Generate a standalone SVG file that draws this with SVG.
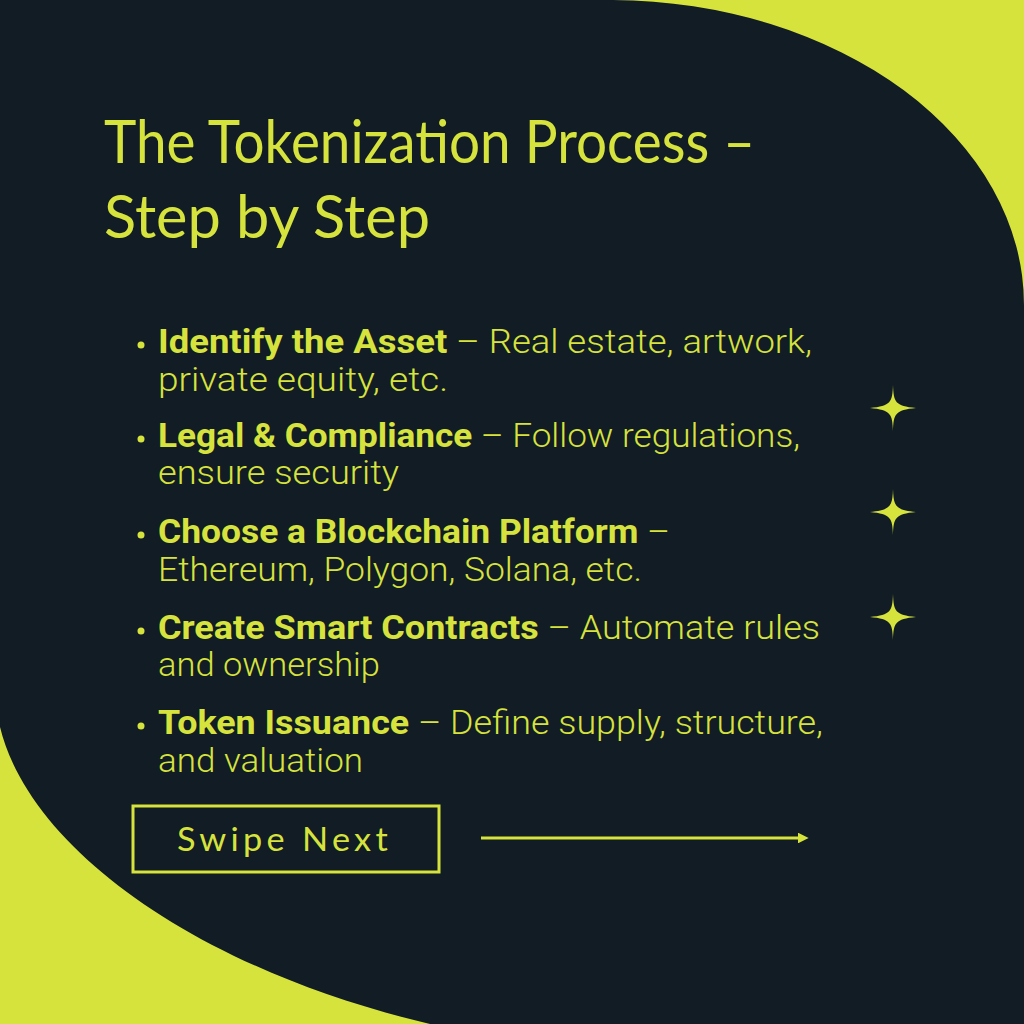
<svg xmlns="http://www.w3.org/2000/svg" width="1024" height="1024" viewBox="0 0 1024 1024">
  <defs>
    <style>
      .bg { fill: #d7e33d; }
      .dark { fill: #111c25; }
      .title { font-family: "Lato", "Open Sans", sans-serif; font-size: 60px; font-weight: 400; fill: #d7e33d; }
      .body { font-family: "Roboto", "Liberation Sans", sans-serif; font-size: 34px; font-weight: 300; fill: #d7e33d; }
      .b { font-weight: 700; }
      .dot { fill: #d7e33d; }
      .star { fill: #d7e33d; }
      .btn { fill: none; stroke: #d7e33d; stroke-width: 3; }
      .btntext { font-family: "Lato", "Open Sans", sans-serif; font-size: 32px; font-weight: 400; fill: #d7e33d; letter-spacing: 4px; }
      .conn { stroke: #d7e33d; stroke-width: 3; fill: none; }
    </style>
    <marker id="arrowhead" viewBox="0 0 10 10" refX="2" refY="5" markerWidth="3.6" markerHeight="3.6" orient="auto" markerUnits="strokeWidth">
      <path d="M0,0 L10,5 L0,10 Z" fill="#d7e33d"/>
    </marker>
    <path id="starshape" d="M0,-23 C0.6,-6 2,-2 23,0 C2,2 0.6,6 0,23 C-0.6,6 -2,2 -23,0 C-2,-2 -0.6,-6 0,-23 Z"/>
  </defs>

  <g id="background">
    <rect class="bg" x="0" y="0" width="1024" height="1024"/>
    <path class="dark" d="M0,0 L613,0 A415 305 0 0 1 1024,305 L1024,1024 L430,1024 C200,970 30,850 0,727 Z"/>
  </g>

  <g id="title">
    <text class="title" x="104" y="163" textLength="651" lengthAdjust="spacingAndGlyphs">The Tokenization Process –</text>
    <text class="title" x="104" y="238" textLength="326" lengthAdjust="spacingAndGlyphs">Step by Step</text>
  </g>

  <g id="step1">
    <circle class="dot" cx="141" cy="345" r="3.5"/>
    <text class="body" x="158" y="353" textLength="654" lengthAdjust="spacingAndGlyphs"><tspan class="b">Identify the Asset</tspan> – Real estate, artwork,</text>
    <text class="body" x="158" y="391" textLength="290" lengthAdjust="spacingAndGlyphs">private equity, etc.</text>
  </g>

  <g id="step2">
    <circle class="dot" cx="141" cy="439" r="3.5"/>
    <text class="body" x="158" y="447" textLength="642" lengthAdjust="spacingAndGlyphs"><tspan class="b">Legal &amp; Compliance</tspan> – Follow regulations,</text>
    <text class="body" x="158" y="484" textLength="241" lengthAdjust="spacingAndGlyphs">ensure security</text>
  </g>

  <g id="step3">
    <circle class="dot" cx="141" cy="535" r="3.5"/>
    <text class="body" x="158" y="543" textLength="512" lengthAdjust="spacingAndGlyphs"><tspan class="b">Choose a Blockchain Platform</tspan> –</text>
    <text class="body" x="158" y="581" textLength="484" lengthAdjust="spacingAndGlyphs">Ethereum, Polygon, Solana, etc.</text>
  </g>

  <g id="step4">
    <circle class="dot" cx="141" cy="631" r="3.5"/>
    <text class="body" x="158" y="639" textLength="662" lengthAdjust="spacingAndGlyphs"><tspan class="b">Create Smart Contracts</tspan> – Automate rules</text>
    <text class="body" x="158" y="676" textLength="222" lengthAdjust="spacingAndGlyphs">and ownership</text>
  </g>

  <g id="step5">
    <circle class="dot" cx="141" cy="726" r="3.5"/>
    <text class="body" x="158" y="734" textLength="665" lengthAdjust="spacingAndGlyphs"><tspan class="b">Token Issuance</tspan> – Define supply, structure,</text>
    <text class="body" x="158" y="772" textLength="205" lengthAdjust="spacingAndGlyphs">and valuation</text>
  </g>

  <g id="stars">
    <use href="#starshape" class="star" x="893" y="408"/>
    <use href="#starshape" class="star" x="893" y="512"/>
    <use href="#starshape" class="star" x="893" y="617"/>
  </g>

  <g id="swipe-next">
    <rect class="btn" x="133" y="806" width="306" height="66"/>
    <text class="btntext" x="177" y="851" textLength="215" lengthAdjust="spacingAndGlyphs">Swipe Next</text>
  </g>

  <g id="connectors">
    <line class="conn" x1="481" y1="838" x2="800" y2="838" marker-end="url(#arrowhead)"/>
  </g>
</svg>
